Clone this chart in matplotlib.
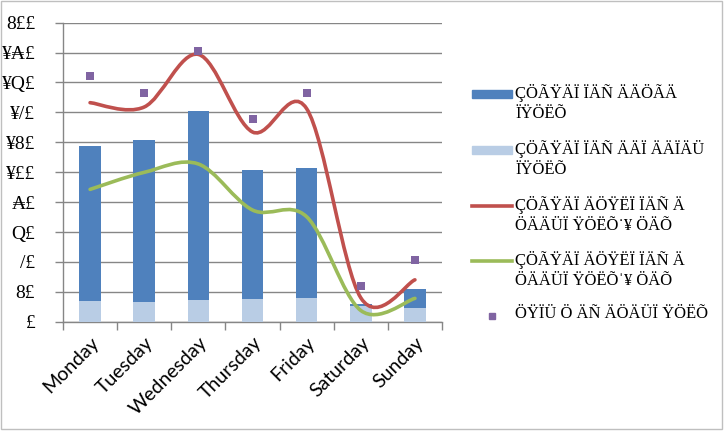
import matplotlib
matplotlib.use('Agg')
import matplotlib.pyplot as plt
from matplotlib.path import Path
from matplotlib.patches import PathPatch, Rectangle
from matplotlib.lines import Line2D

# data
days = ['Monday', 'Tuesday', 'Wednesday', 'Thursday', 'Friday', 'Saturday', 'Sunday']
bar_dark = [117.5, 121.5, 140.9, 101.4, 102.6, 12.0, 21.6]
bar_light = [13.8, 12.9, 14.3, 15.4, 15.8, 10.5, 9.4]
line_red = [146.5, 143.6, 178.8, 126.9, 142.5, 16.0, 28.0]
line_green = [88.5, 99.9, 105.5, 74.7, 70.2, 7.5, 15.6]
points_purple = [164.3, 153.2, 181.3, 135.3, 153.2, 24.1, 41.3]

y_ticks = [0, 20, 40, 60, 80, 100, 120, 140, 160, 180, 200]
y_labels = ['£', '8£', '/£', 'Q£', '₳£', '¥££', '¥8£', '¥/£', '¥Q£', '¥₳£', '8££']

legend_labels = [
    'ÇÖÃŸÄÏ ÏÄÑ ÄÄÖÃÄ\nÏŸÖËÕ',
    'ÇÖÃŸÄÏ ÏÄÑ ÄÄÏ ÄÄÏÄÜ\nÏŸÖËÕ',
    'ÇÖÃŸÄÏ ÄÖŸËÏ ÏÄÑ Ä\nÖÄÄÜÏ ŸÖËÕ˙¥ ÖÄÕ',
    'ÇÖÃŸÄÏ ÄÖŸËÏ ÏÄÑ Ä\nÖÄÄÜÏ ŸÖËÕˈ¥ ÖÄÕ',
    'ÖŸÏÜ Ö ÄÑ ÄÖÄÜÏ ŸÖËÕ',
]

DARK = '#4F81BD'
LIGHT = '#B9CDE5'
RED = '#C0504D'
GREEN = '#9BBB59'
PURPLE = '#8064A2'
GRID = '#868686'


def smooth_path(xs, ys):
    # bezier curve through the points, like excel's smoothed line
    n = len(xs)
    verts = [(xs[0], ys[0])]
    codes = [Path.MOVETO]
    for i in range(n - 1):
        a = i - 1 if i > 0 else i
        b = i + 2 if i + 2 < n else i + 1
        c1 = (xs[i] + (xs[i + 1] - xs[a]) / 6.0, ys[i] + (ys[i + 1] - ys[a]) / 6.0)
        c2 = (xs[i + 1] - (xs[b] - xs[i]) / 6.0, ys[i + 1] - (ys[b] - ys[i]) / 6.0)
        verts += [c1, c2, (xs[i + 1], ys[i + 1])]
        codes += [Path.CURVE4] * 3
    return Path(verts, codes)


W, H = 725, 432
fig = plt.figure(figsize=(W / 100, H / 100), dpi=100)
ax = fig.add_axes([63 / W, 1 - 321.7 / H, (442 - 63) / W, (321.7 - 22.7) / H])

x = list(range(len(days)))
ax.bar(x, bar_dark, width=0.4, color=DARK, zorder=2)
ax.bar(x, bar_light, width=0.4, color=LIGHT, zorder=3)

ax.add_patch(PathPatch(smooth_path(x, line_red), fill=False, edgecolor=RED,
                       lw=2.6, capstyle='round', zorder=4))
ax.add_patch(PathPatch(smooth_path(x, line_green), fill=False, edgecolor=GREEN,
                       lw=2.6, capstyle='round', zorder=4))
ax.scatter(x, points_purple, marker='s', s=26, color=PURPLE, zorder=5, linewidths=0)

ax.set_xlim(-0.5, len(days) - 0.5)
ax.set_ylim(0, 200)

ax.set_yticks(y_ticks)
ax.set_yticklabels(y_labels, family=['Liberation Serif', 'DejaVu Serif', 'DejaVu Sans'],
                   fontsize=14)
ax.tick_params(axis='y', length=6, width=1, color=GRID, pad=14)
ax.yaxis.grid(True, color=GRID, lw=1)
ax.set_axisbelow(True)

ax.set_xticks(x)
ax.set_xticklabels(days, rotation=45, ha='right', rotation_mode='anchor',
                   family='Lato', fontsize=14)
ax.tick_params(axis='x', which='major', length=0, pad=9)
ax.set_xticks([i - 0.5 for i in range(len(days) + 1)], minor=True)
ax.tick_params(axis='x', which='minor', length=6, width=1, color=GRID)

for s in ['top', 'right']:
    ax.spines[s].set_visible(False)
for s in ['left', 'bottom']:
    ax.spines[s].set_color(GRID)
    ax.spines[s].set_linewidth(1)

# legend drawn by hand so the keys line up with the first line of text
def fx(px):
    return px / W


def fy(py):
    return 1 - py / H


leg_font = ['Liberation Serif', 'DejaVu Serif', 'DejaVu Sans']
key_y = [94, 150, 206, 261, 316]
fig.add_artist(Rectangle((fx(472), fy(98)), fx(512) - fx(472), 8 / H, color=DARK))
fig.add_artist(Rectangle((fx(472), fy(154)), fx(512) - fx(472), 8 / H, color=LIGHT))
fig.add_artist(Line2D([fx(472), fx(512)], [fy(206), fy(206)], color=RED, lw=2.6))
fig.add_artist(Line2D([fx(472), fx(512)], [fy(261), fy(261)], color=GREEN, lw=2.6))
fig.add_artist(Line2D([fx(492)], [fy(316)], color=PURPLE, marker='s', ms=5, lw=0))
for ky, lab in zip(key_y, legend_labels):
    fig.text(fx(515), fy(ky - 10), lab, ha='left', va='top', fontsize=12,
             family=leg_font, linespacing=1.3)

fig.add_artist(Rectangle((0.5 / W, 3 / H), (W - 4) / W, (H - 4) / H, fill=False,
                         edgecolor='#BFBFBF', lw=1))

fig.savefig('out.png', dpi=100)
